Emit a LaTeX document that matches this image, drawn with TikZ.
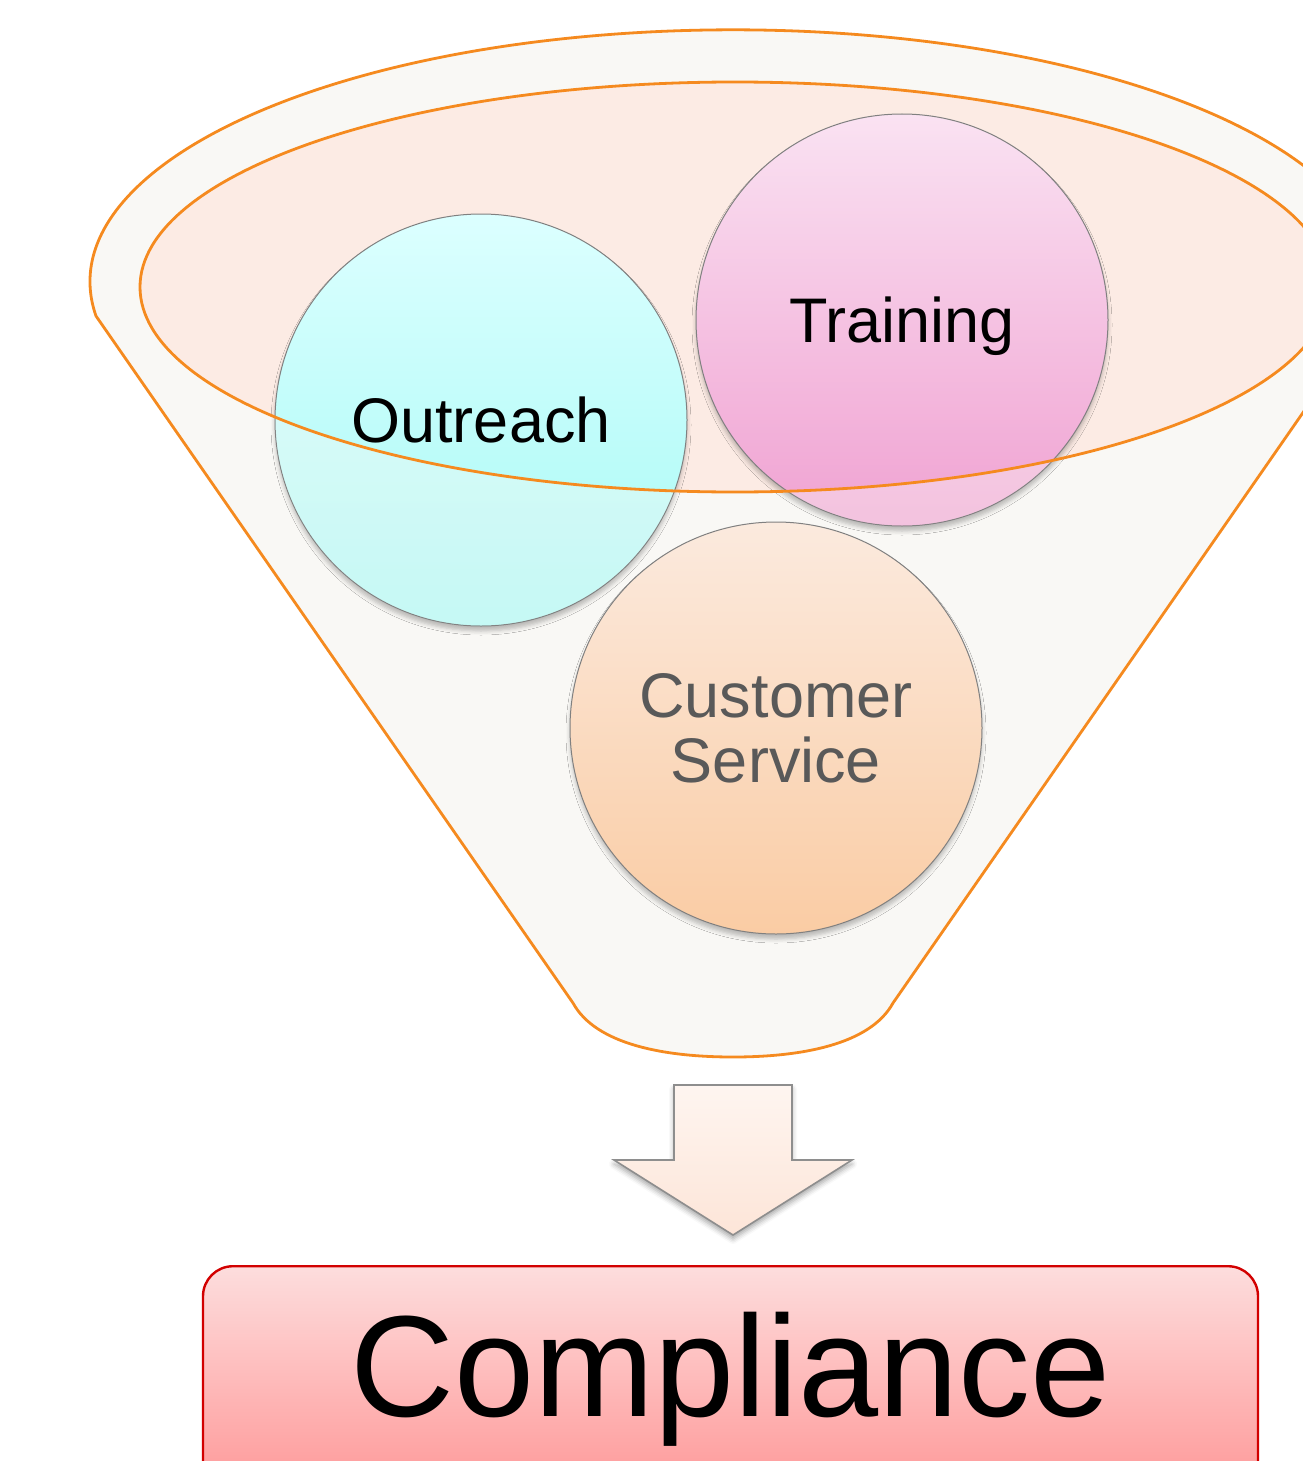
\documentclass[tikz,border=0pt]{standalone}
\usepackage{fontspec}
\setmainfont{Liberation Sans}
\usetikzlibrary{shadows.blur}

\definecolor{funnelline}{RGB}{245,138,31}
\definecolor{funnelfill}{RGB}{249,248,245}
\definecolor{rimfill}{RGB}{252,235,228}
\definecolor{cyanTop}{RGB}{220,255,255}
\definecolor{cyanBot}{RGB}{166,250,245}
\definecolor{pinkTop}{RGB}{250,226,242}
\definecolor{pinkBot}{RGB}{240,162,210}
\definecolor{peachTop}{RGB}{251,234,222}
\definecolor{peachBot}{RGB}{250,204,164}
\definecolor{csText}{RGB}{89,89,89}
\definecolor{arrowTop}{RGB}{254,245,240}
\definecolor{arrowBot}{RGB}{253,229,216}
\definecolor{arrowLine}{RGB}{142,142,142}
\definecolor{compTop}{RGB}{253,221,221}
\definecolor{compBot}{RGB}{255,140,140}
\definecolor{compLine}{RGB}{210,0,0}

\tikzset{
  topic/.style={circle, draw=black!50, line width=0.5pt, minimum size=206pt,
    inner sep=0pt, text depth=0pt, align=center,
    font=\fontsize{31.5}{32.5}\selectfont,
    blur shadow={shadow xshift=0pt, shadow yshift=-2.5pt, shadow blur radius=2pt, shadow opacity=25}},
  rimline/.style={draw=funnelline, line width=1.4pt},
  fade/.style={fill=funnelfill, opacity=0.38, even odd rule},
  compbox/.style={draw=compLine, line width=1.2pt, rounded corners=15pt,
    top color=compTop, bottom color=compBot, minimum width=527.5pt,
    inner sep=0pt, text height=75pt, text depth=57.5pt,
    font=\fontsize{72}{80}\selectfont},
}

\begin{document}
\begin{tikzpicture}[x=0.5pt, y=-0.5pt]
\useasboundingbox (0,0) rectangle (1302,1461);

% funnel body
\draw[rimline, fill=funnelfill]
  (96,316) arc[start angle=172.2, end angle=367.8, x radius=643, y radius=252]
  -- (893,1003)
  .. controls (870,1045) and (800,1057) .. (733,1057)
  .. controls (666,1057) and (596,1045) .. (573,1003)
  -- cycle;

% funnel mouth
\fill[rimfill] (735,287) ellipse [x radius=595, y radius=205];

% topics
\node[topic, top color=cyanTop, bottom color=cyanBot] (outreach) at (481,420) {Outreach};
\node[topic, top color=pinkTop, bottom color=pinkBot] (training) at (902,320) {Training};
\node[topic, top color=peachTop, bottom color=peachBot, text=csText] (service) at (776,728) {Customer\\Service};

% parts of the circles below the mouth look paler
\begin{scope}
  \clip (outreach.center) circle [radius=205.5];
  \fill[fade] (0,0) rectangle (1302,1461) (735,287) ellipse [x radius=595, y radius=205];
\end{scope}
\begin{scope}
  \clip (training.center) circle [radius=205.5];
  \fill[fade] (0,0) rectangle (1302,1461) (735,287) ellipse [x radius=595, y radius=205];
\end{scope}

% rim of the mouth
\draw[rimline] (735,287) ellipse [x radius=595, y radius=205];

% block arrow
\draw[draw=arrowLine, line width=0.8pt, top color=arrowTop, bottom color=arrowBot,
      blur shadow={shadow xshift=0pt, shadow yshift=-2pt, shadow blur radius=2.5pt, shadow opacity=35}]
  (674,1085) -- (792,1085) -- (792,1160) -- (852,1160) -- (733,1235)
  -- (614,1160) -- (674,1160) -- cycle;

% result
\node[compbox, anchor=north] (compliance) at (730.5,1265) {Compliance};
\end{tikzpicture}
\end{document}
